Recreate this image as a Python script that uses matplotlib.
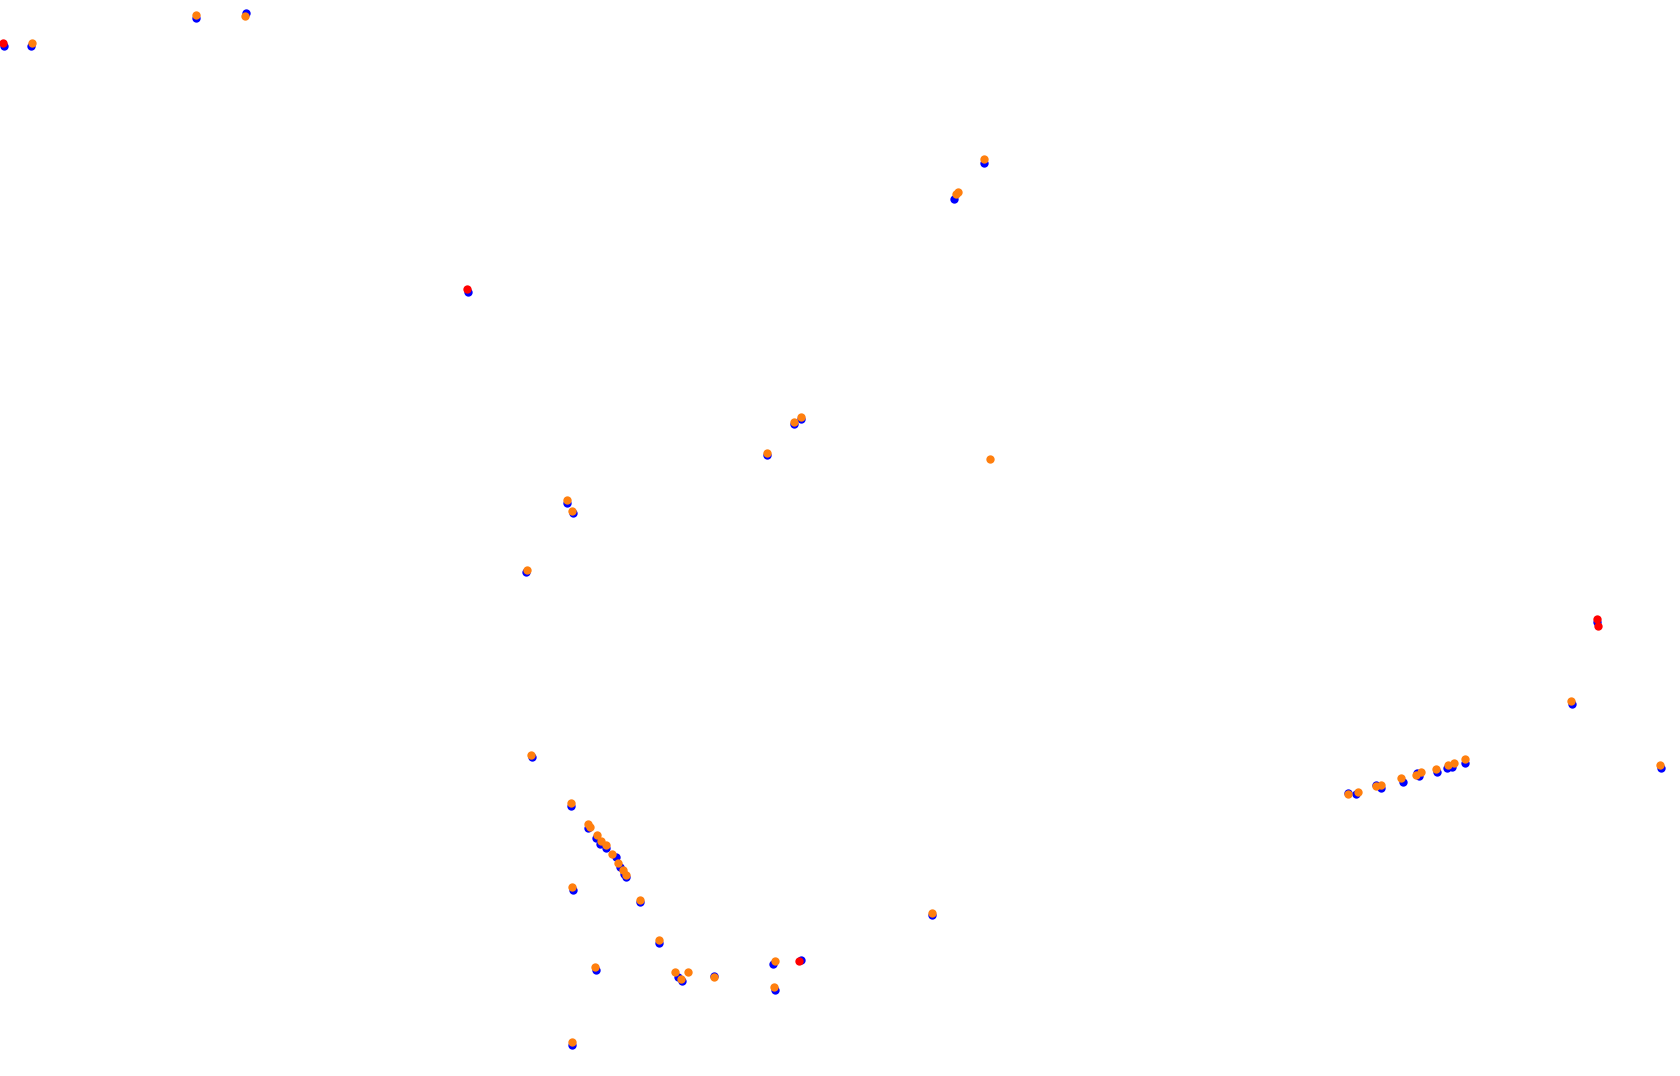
import matplotlib
matplotlib.use("Agg")
import matplotlib.pyplot as plt

# Positions (pixel-space coordinates of the chart area, y downward)
blue_x = [4, 31, 196, 246, 984, 954, 468, 801, 794, 767, 567, 573, 526, 1597, 1572, 1661,
          1465, 1452, 1447, 1437, 1419, 1417, 1403, 1381, 1376, 1356, 1348,
          532, 571, 588, 596, 600, 606, 616, 620, 624, 626, 573, 640, 659, 932, 596,
          678, 682, 714, 773, 801, 775, 572]
blue_y = [46, 46, 18, 13, 163, 199, 292, 419, 424, 455, 503, 513, 572, 622, 704, 768,
          763, 767, 768, 772, 776, 773, 782, 788, 785, 794, 793,
          757, 806, 828, 838, 844, 848, 857, 867, 874, 877, 890, 902, 943, 915, 970,
          977, 981, 976, 964, 960, 990, 1045]

orange_x = [32, 196, 245, 984, 956, 958, 801, 794, 767, 990, 567, 572, 527, 1571, 1660,
            1465, 1454, 1448, 1436, 1421, 1416, 1401, 1381, 1376, 1358, 1348,
            531, 571, 588, 590, 597, 601, 606, 612, 618, 623, 626, 572, 640, 659, 932,
            595, 675, 681, 688, 714, 775, 774, 572]
orange_y = [43, 15, 16, 159, 194, 192, 417, 422, 453, 459, 500, 511, 570, 701, 765,
            759, 763, 765, 769, 772, 775, 778, 785, 786, 792, 794,
            755, 803, 824, 827, 835, 841, 845, 854, 863, 870, 875, 887, 900, 940, 913,
            967, 972, 979, 972, 977, 961, 987, 1042]

red_x = [3, 467, 1597, 1598, 799]
red_y = [43, 289, 619, 626, 961]

fig = plt.figure(figsize=(16.8, 10.76), dpi=100)
ax = fig.add_axes([0, 0, 1, 1])
ax.set_xlim(0, 1680)
ax.set_ylim(1076, 0)
ax.axis("off")

s = 36
ax.scatter(blue_x, blue_y, s=s, color="#0000ff", linewidths=0, zorder=2)
ax.scatter(orange_x, orange_y, s=s, color="#ff7f0e", linewidths=0, zorder=3)
ax.scatter(red_x, red_y, s=s, color="#ff0000", linewidths=0, zorder=4)

fig.savefig("out.png", dpi=100, facecolor="white")
